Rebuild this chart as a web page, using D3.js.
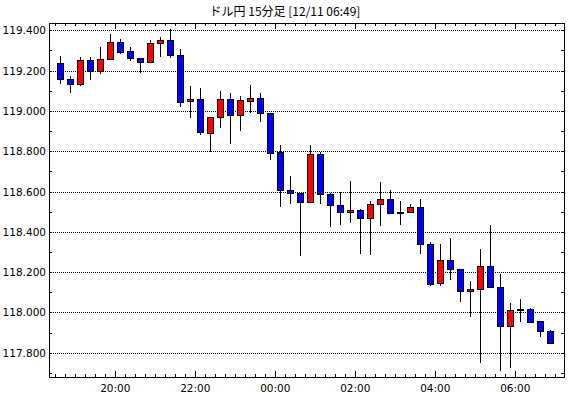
<!DOCTYPE html>
<html>
<head>
<meta charset="utf-8">
<script src="https://cdn.jsdelivr.net/npm/d3@7"></script>
<style>
  body { margin: 0; background: #fff; }
  svg { display: block; }
  .lbl { font-family: "DejaVu Sans", sans-serif; font-size: 10.5px; fill: #000; }
  .title { font-family: "Noto Sans CJK JP", sans-serif; font-size: 12px; fill: #000; }
</style>
</head>
<body>
<svg id="chart" width="570" height="398"></svg>
<script>
const title = 'ドル円 15分足 [12/11 06:49]';

// candle start times (12/10 18:30 -> 12/11 06:45)
const times = [
  '12/10 18:30', '12/10 18:45', '12/10 19:00', '12/10 19:15', '12/10 19:30', '12/10 19:45',
  '12/10 20:00', '12/10 20:15', '12/10 20:30', '12/10 20:45', '12/10 21:00', '12/10 21:15',
  '12/10 21:30', '12/10 21:45', '12/10 22:00', '12/10 22:15', '12/10 22:30', '12/10 22:45',
  '12/10 23:00', '12/10 23:15', '12/10 23:30', '12/10 23:45', '12/11 00:00', '12/11 00:15',
  '12/11 00:30', '12/11 00:45', '12/11 01:00', '12/11 01:15', '12/11 01:30', '12/11 01:45',
  '12/11 02:00', '12/11 02:15', '12/11 02:30', '12/11 02:45', '12/11 03:00', '12/11 03:15',
  '12/11 03:30', '12/11 03:45', '12/11 04:00', '12/11 04:15', '12/11 04:30', '12/11 04:45',
  '12/11 05:00', '12/11 05:15', '12/11 05:30', '12/11 05:45', '12/11 06:00', '12/11 06:15',
  '12/11 06:30', '12/11 06:45'
];
const opens = [
  119.236, 119.156, 119.131, 119.251, 119.200, 119.256, 119.340, 119.295, 119.261, 119.241,
  119.335, 119.350, 119.276, 119.051, 119.061, 118.892, 118.972, 119.061, 118.982, 119.051,
  119.066, 118.992, 118.795, 118.607, 118.592, 118.550, 118.785, 118.587, 118.532, 118.498,
  118.507, 118.468, 118.537, 118.562, 118.498, 118.498, 118.522, 118.342, 118.145, 118.260,
  118.215, 118.106, 118.116, 118.230, 118.126, 117.932, 118.016, 118.017, 117.957, 117.907
];
const highs = [
  119.272, 119.173, 119.266, 119.266, 119.315, 119.382, 119.355, 119.315, 119.261, 119.350,
  119.365, 119.405, 119.305, 119.123, 119.113, 118.972, 119.098, 119.088, 119.076, 119.128,
  119.088, 118.992, 118.832, 118.679, 118.592, 118.832, 118.798, 118.592, 118.600, 118.653,
  118.512, 118.552, 118.648, 118.608, 118.554, 118.539, 118.564, 118.349, 118.340, 118.369,
  118.215, 118.157, 118.316, 118.435, 118.192, 118.048, 118.068, 118.022, 117.957, 117.912
];
const lows = [
  119.133, 119.090, 119.124, 119.153, 119.183, 119.256, 119.284, 119.249, 119.186, 119.241,
  119.269, 119.261, 119.020, 118.967, 118.882, 118.798, 118.917, 118.836, 118.900, 118.992,
  118.947, 118.758, 118.521, 118.536, 118.278, 118.545, 118.540, 118.426, 118.436, 118.446,
  118.288, 118.283, 118.431, 118.488, 118.436, 118.498, 118.288, 118.129, 118.129, 118.159,
  118.050, 117.980, 117.749, 118.126, 117.712, 117.727, 117.955, 117.955, 117.876, 117.848
];
const closes = [
  119.156, 119.131, 119.251, 119.200, 119.256, 119.340, 119.294, 119.261, 119.241, 119.335,
  119.350, 119.276, 119.046, 119.061, 118.897, 118.972, 119.061, 118.982, 119.056, 119.066,
  118.992, 118.793, 118.607, 118.592, 118.550, 118.785, 118.587, 118.532, 118.498, 118.507,
  118.468, 118.537, 118.562, 118.493, 118.493, 118.522, 118.342, 118.140, 118.260, 118.215,
  118.106, 118.116, 118.230, 118.126, 117.932, 118.012, 118.012, 117.955, 117.906, 117.848
];
const yTicks = [117.8, 118.0, 118.2, 118.4, 118.6, 118.8, 119.0, 119.2, 119.4];

const parse = d3.timeParse('%Y/%m/%d %H:%M');
const toDate = s => parse('2014/' + s);

const candles = times.map((t, i) => ({
  t: toDate(t), o: opens[i], h: highs[i], l: lows[i], c: closes[i]
}));

const plotLeft = 49, plotRight = 564, plotTop = 23, plotBottom = 377;

const x = d3.scaleTime()
    .domain([new Date(2014, 11, 10, 18, 20, 33), new Date(2014, 11, 11, 7, 13, 0)])
    .range([plotLeft, plotRight]);
const y = d3.scaleLinear()
    .domain([117.68, 119.436])
    .range([plotBottom, plotTop]);

const svg = d3.select('#chart');
const px = v => Math.round(v) + 0.5;

svg.append('text').attr('class', 'title')
    .attr('x', 285).attr('y', 16).attr('text-anchor', 'middle')
    .text(title);

// dotted grid
svg.append('g').selectAll('line').data(yTicks).enter().append('line')
    .attr('x1', plotLeft).attr('x2', plotRight)
    .attr('y1', d => px(y(d))).attr('y2', d => px(y(d)))
    .attr('stroke', '#000').attr('stroke-dasharray', '1,1');

// y labels
svg.append('g').selectAll('text').data(yTicks).enter().append('text')
    .attr('class', 'lbl')
    .attr('x', 46).attr('y', d => y(d) + 4)
    .attr('text-anchor', 'end')
    .text(d => d3.format('.3f')(d));

// minor y ticks on both sides
const yMinor = d3.range(117.7, 119.45, 0.1).map(v => +v.toFixed(1));
const ty = svg.append('g').attr('stroke', '#000');
yMinor.forEach(v => {
    ty.append('line').attr('x1', plotLeft).attr('x2', plotLeft + 3)
        .attr('y1', px(y(v))).attr('y2', px(y(v)));
    ty.append('line').attr('x1', plotRight - 3).attr('x2', plotRight)
        .attr('y1', px(y(v))).attr('y2', px(y(v)));
});

// x ticks (top and bottom)
const minor = x.ticks(d3.timeMinute.every(15));
const major = x.ticks(d3.timeHour.every(2));
const tx = svg.append('g').attr('stroke', '#000');
minor.forEach(d => {
    const isMajor = d.getMinutes() === 0 && d.getHours() % 2 === 0;
    const len = isMajor ? 6 : 3;
    tx.append('line').attr('x1', px(x(d))).attr('x2', px(x(d)))
        .attr('y1', plotBottom - len).attr('y2', plotBottom);
    tx.append('line').attr('x1', px(x(d))).attr('x2', px(x(d)))
        .attr('y1', plotTop).attr('y2', plotTop + len);
});

svg.append('g').selectAll('text').data(major).enter().append('text')
    .attr('class', 'lbl')
    .attr('x', d => x(d)).attr('y', 392)
    .attr('text-anchor', 'middle')
    .text(d3.timeFormat('%H:%M'));

// frame
svg.append('rect')
    .attr('x', plotLeft + 0.5).attr('y', plotTop + 0.5)
    .attr('width', plotRight - plotLeft).attr('height', plotBottom - plotTop)
    .attr('fill', 'none').attr('stroke', '#000');

// candles
const mid = d => px(x(d3.timeMinute.offset(d.t, 7.5)));
const g = svg.append('g').selectAll('g').data(candles).enter().append('g');

g.append('line')
    .attr('x1', mid).attr('x2', mid)
    .attr('y1', d => Math.round(y(d.h))).attr('y2', d => Math.round(y(d.l)))
    .attr('stroke', '#000');

g.append('rect')
    .attr('x', d => mid(d) - 3)
    .attr('y', d => Math.round(y(Math.max(d.o, d.c))) + 0.5)
    .attr('width', 6)
    .attr('height', d => Math.max(1, Math.round(y(Math.min(d.o, d.c))) - Math.round(y(Math.max(d.o, d.c)))))
    .attr('fill', d => d.c > d.o ? '#ff0000' : '#0000ff')
    .attr('stroke', '#000');
</script>
</body>
</html>
